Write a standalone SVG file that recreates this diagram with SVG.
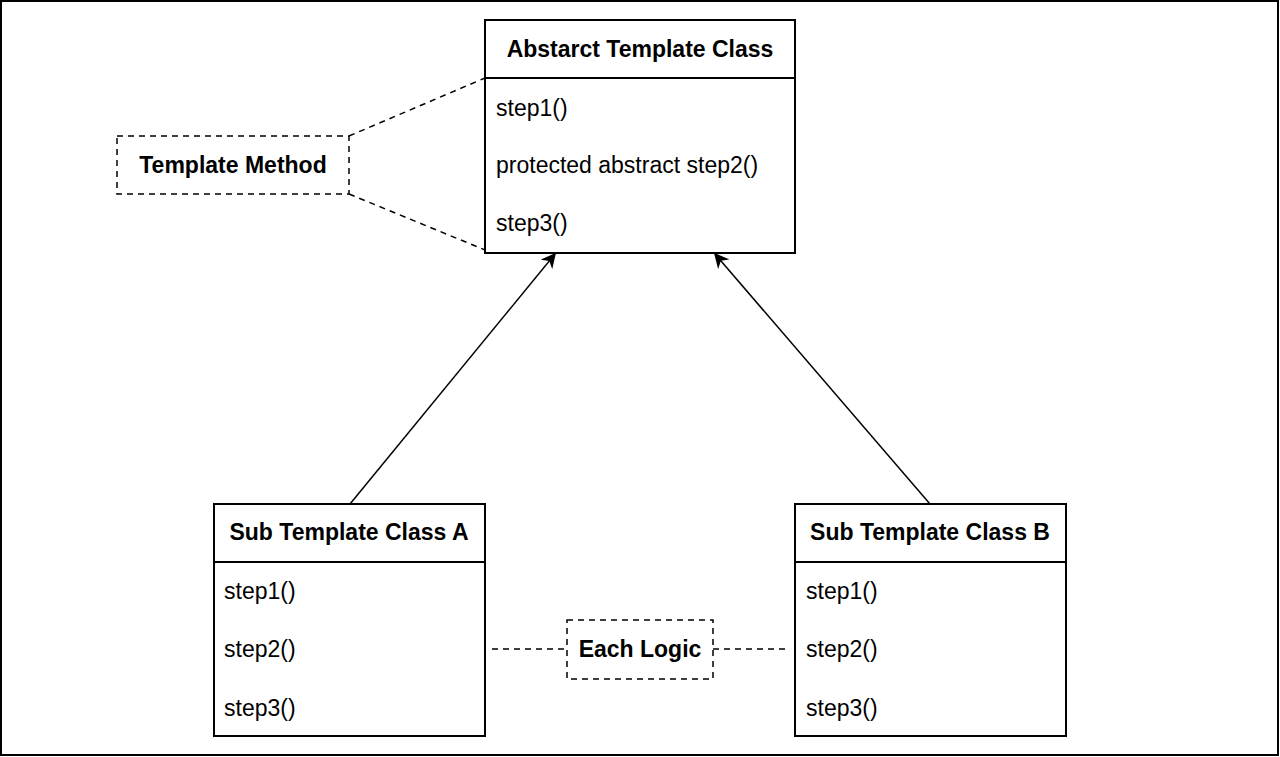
<svg xmlns="http://www.w3.org/2000/svg" width="1280" height="757" viewBox="0 0 1280 757">
<style>
.box{fill:#fff;stroke:#000;stroke-width:2}
.dash{fill:none;stroke:#000;stroke-width:1.5;stroke-dasharray:6 5}
.h{font-family:"Liberation Sans",Arial,sans-serif;font-weight:bold;font-size:23px;fill:#000}
.t{font-family:"Liberation Sans",Arial,sans-serif;font-size:23px;fill:#000}
.ln{stroke:#000;stroke-width:1.5;fill:none}
</style>
<defs>
<marker id="arr" viewBox="0 0 10 10" refX="9" refY="5" markerWidth="15" markerHeight="15" markerUnits="userSpaceOnUse" orient="auto">
<path d="M0,0 L10,5 L0,10 L3,5 Z" fill="#000"/>
</marker>
</defs>
<rect x="1" y="1" width="1277" height="754" fill="#fff" stroke="#000" stroke-width="2"/>
<g id="connectors">
<line class="ln" x1="350" y1="504" x2="555" y2="254" marker-end="url(#arr)"/>
<line class="ln" x1="930" y1="504" x2="715" y2="254" marker-end="url(#arr)"/>
<path class="dash" d="M349,136 L485,78"/>
<path class="dash" d="M349,194 L490,252"/>
<path class="dash" d="M492,649 L567,649"/>
<path class="dash" d="M713,649 L790,649"/>
</g>
<g id="abstract">
<rect class="box" x="485" y="20" width="310" height="233"/>
<line class="ln" x1="485" y1="78" x2="795" y2="78" style="stroke-width:2"/>
<text class="h" x="640" y="57" text-anchor="middle">Abstarct Template Class</text>
<text class="t" x="496" y="116">step1()</text>
<text class="t" x="496" y="173">protected abstract step2()</text>
<text class="t" x="496" y="231">step3()</text>
</g>
<g id="template-method">
<rect class="dash" x="117" y="136" width="232" height="58"/>
<text class="h" x="233" y="173" text-anchor="middle">Template Method</text>
</g>
<g id="subA">
<rect class="box" x="214" y="504" width="271" height="232"/>
<line class="ln" x1="214" y1="562" x2="485" y2="562" style="stroke-width:2"/>
<text class="h" x="349" y="540" text-anchor="middle">Sub Template Class A</text>
<text class="t" x="224" y="599">step1()</text>
<text class="t" x="224" y="657">step2()</text>
<text class="t" x="224" y="716">step3()</text>
</g>
<g id="subB">
<rect class="box" x="795" y="504" width="271" height="232"/>
<line class="ln" x1="795" y1="562" x2="1066" y2="562" style="stroke-width:2"/>
<text class="h" x="930" y="540" text-anchor="middle">Sub Template Class B</text>
<text class="t" x="806" y="599">step1()</text>
<text class="t" x="806" y="657">step2()</text>
<text class="t" x="806" y="716">step3()</text>
</g>
<g id="each-logic">
<rect class="dash" x="567" y="620" width="146" height="59"/>
<text class="h" x="640" y="657" text-anchor="middle">Each Logic</text>
</g>
</svg>
